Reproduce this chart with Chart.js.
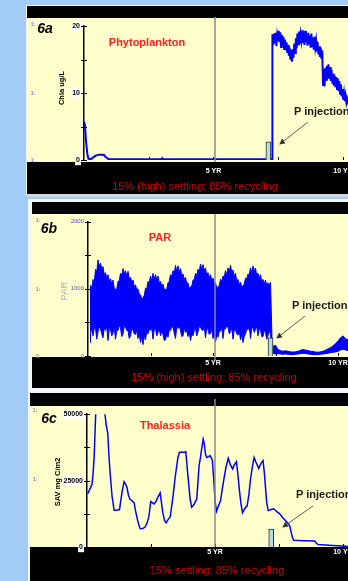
<!DOCTYPE html>
<html>
<head>
<meta charset="utf-8">
<title>Fig 6a-6c</title>
<script src="https://cdn.jsdelivr.net/npm/chart.js@4.4.1/dist/chart.umd.min.js"></script>
<style>
  html, body { margin: 0; padding: 0; width: 348px; height: 581px; overflow: hidden; background: #a2cbf5; }
  body { position: relative; font-family: "Liberation Sans", Arial, sans-serif; }
  .box { position: absolute; }
  .white { background: #f2f7fc; }
  .black { background: #000; }
  .yellow { background: #ffffcc; }
  canvas { position: absolute; }
  .t { position: absolute; white-space: nowrap; line-height: 1; transform: translate(-50%, -50%); }
  .tl { position: absolute; white-space: nowrap; line-height: 1; transform: translateY(-50%); }
  .rot { transform: translate(-50%, -50%) rotate(-90deg); }
  .fig { font-size: 14px; font-weight: bold; font-style: italic; color: #000; }
  .title { font-size: 11px; font-weight: bold; color: #ff2020; }
  .inj { font-size: 11px; font-weight: bold; color: #1a1a1a; }
  .cap { font-size: 11px; color: #c80000; }
  .one { font-size: 5px; font-weight: bold; color: #7c7cdc; }
  .ytitle { font-size: 7.5px; font-weight: bold; color: #000; }
</style>
</head>
<body>

<!-- panel 6a frame -->
<div class="box white" style="left:26px;top:5px;width:330px;height:190px"></div>
<div class="box black" style="left:27px;top:6px;width:330px;height:12px"></div>
<div class="box yellow" style="left:27px;top:18px;width:330px;height:144px"></div>
<div class="box black" style="left:27px;top:162px;width:330px;height:32px"></div>
<div class="box" style="left:27px;top:194px;width:330px;height:3px;background:#cfd8e2"></div>

<!-- panel 6b frame -->
<div class="box white" style="left:28px;top:199px;width:330px;height:191px"></div>
<div class="box black" style="left:32px;top:202px;width:330px;height:12px"></div>
<div class="box yellow" style="left:32px;top:214px;width:330px;height:143px"></div>
<div class="box black" style="left:32px;top:357px;width:330px;height:31px"></div>

<!-- panel 6c frame -->
<div class="box white" style="left:28px;top:389px;width:330px;height:192px"></div>
<div class="box black" style="left:30px;top:393px;width:330px;height:13px"></div>
<div class="box yellow" style="left:30px;top:406px;width:330px;height:141px"></div>
<div class="box black" style="left:30px;top:547px;width:330px;height:34px"></div>

<canvas id="chartA" width="353" height="176" style="left:27px;top:18px"></canvas>
<canvas id="chartB" width="348" height="174" style="left:32px;top:214px"></canvas>
<canvas id="chartC" width="350" height="175" style="left:30px;top:406px"></canvas>

<!-- 5 YR marker lines and arrows -->
<svg class="box" width="348" height="581" style="left:0;top:0">
  <defs>
    <marker id="ah" markerWidth="6" markerHeight="6" refX="5" refY="3" orient="auto" markerUnits="userSpaceOnUse">
      <path d="M0,0 L6,3 L0,6 z" fill="#333"/>
    </marker>
  </defs>
  <g stroke="#8a8a8a" stroke-width="1.5">
    <line x1="215" y1="17" x2="215" y2="162"/>
    <line x1="215" y1="214" x2="215" y2="360"/>
    <line x1="215" y1="399" x2="215" y2="547"/>
  </g>
  <g stroke="#333" stroke-width="0.8">
    <line x1="308" y1="122" x2="280" y2="144" marker-end="url(#ah)"/>
    <line x1="305" y1="316" x2="277" y2="338" marker-end="url(#ah)"/>
    <line x1="313" y1="506" x2="283" y2="527" marker-end="url(#ah)"/>
  </g>
</svg>

<!-- texts 6a -->
<div class="t fig" style="left:45px;top:28px">6a</div>
<div class="t title" style="left:147px;top:42px">Phytoplankton</div>
<div class="t ytitle rot" style="left:62px;top:88px">Chla ug/L</div>
<div class="tl inj" style="left:294px;top:111px">P injection</div>
<div class="t one" style="left:33px;top:24px">1:</div>
<div class="t one" style="left:33px;top:93px">1:</div>
<div class="t one" style="left:33px;top:160px">1:</div>
<div class="t cap" style="left:195px;top:186px">15% (high) settling; 85% recycling</div>

<!-- texts 6b -->
<div class="t fig" style="left:49px;top:228px">6b</div>
<div class="t title" style="left:160px;top:237px">PAR</div>
<div class="t rot" style="left:64px;top:291px;font-size:9.5px;color:#b0b0b0">PAR</div>
<div class="tl inj" style="left:292px;top:305px">P injection</div>
<div class="t one" style="left:38px;top:220px">1:</div>
<div class="t one" style="left:38px;top:289px">1:</div>
<div class="t one" style="left:38px;top:356px">1:</div>
<div class="t cap" style="left:214px;top:377px">15% (high) settling; 85% recycling</div>

<!-- texts 6c -->
<div class="t fig" style="left:49px;top:418px">6c</div>
<div class="t title" style="left:165px;top:425px">Thalassia</div>
<div class="t ytitle rot" style="left:58px;top:482px">SAV mg C/m2</div>
<div class="tl inj" style="left:296px;top:494px">P injection</div>
<div class="t one" style="left:35px;top:410px">1:</div>
<div class="t one" style="left:35px;top:479px">1:</div>
<div class="t cap" style="left:217px;top:570px">15% settling; 85% recycling</div>

<script>
// ---- 6a Phytoplankton (Chla ug/L), time in years ----
const phytoT = [0, 0.04, 0.08, 0.13, 0.17, 0.26, 0.35, 0.45, 0.58, 0.7, 0.77, 0.85, 0.96, 1.05, 3.0, 3.02, 3.04, 7.26,
  7.27, 7.28, 7.31, 7.34, 7.37, 7.40, 7.43, 7.46, 7.49, 7.52, 7.55, 7.58, 7.61, 7.64, 7.67, 7.70, 7.73, 7.76, 7.79,
  7.82, 7.85, 7.88, 7.91, 7.94, 7.97, 8.00, 8.03, 8.06, 8.09, 8.12, 8.15, 8.18, 8.21, 8.24, 8.27, 8.30, 8.33, 8.36,
  8.39, 8.42, 8.45, 8.48, 8.51, 8.54, 8.57, 8.60, 8.63, 8.66, 8.69, 8.72, 8.75, 8.78, 8.81, 8.84, 8.87, 8.90, 8.93,
  8.96, 8.99, 9.02, 9.05, 9.08, 9.11, 9.14, 9.17, 9.20, 9.23, 9.26, 9.29, 9.32, 9.35, 9.38, 9.41, 9.44, 9.47, 9.50,
  9.53, 9.56, 9.59, 9.62, 9.65, 9.68, 9.71, 9.74, 9.77, 9.80, 9.83, 9.86, 9.89, 9.92, 9.95, 9.98, 10.01, 10.04,
  10.07, 10.10, 10.13, 10.16, 10.19, 10.22];
const phytoChla = [5.7, 5.2, 2.7, 0.9, 0.2, 0.1, 0.35, 0.65, 0.8, 0.8, 0.75, 0.4, 0.1, 0.1, 0.1, 0.25, 0.1, 0.1,
  12, 18.8, 17.2, 18.9, 17.5, 19.0, 17.0, 18.6, 17.8, 19.3, 17.6, 19.1, 16.9, 18.7, 17.3, 18.4, 16.6, 18.0, 16.4,
  17.6, 16.0, 17.2, 15.6, 16.8, 15.0, 16.4, 14.7, 16.6, 15.3, 17.4, 16.0, 18.2, 16.7, 18.9, 17.3, 19.2, 17.4, 18.8,
  17.9, 19.4, 17.5, 19.1, 17.2, 19.3, 17.6, 18.7, 17.1, 19.0, 17.4, 18.6, 16.8, 18.9, 17.0, 18.3, 16.5, 18.4, 16.9,
  17.8, 16.2, 17.6, 15.8, 17.0, 15.4, 16.8, 15.1, 16.4, 11.2, 13.6, 11.0, 13.8, 12.0, 14.1, 12.3, 14.3, 12.1, 13.9,
  11.8, 13.5, 11.4, 12.9, 11.1, 12.6, 10.9, 12.4, 10.6, 12.2, 10.3, 11.8, 9.9, 11.3, 9.5, 10.6, 9.0, 10.0,
  8.8, 9.6, 8.6, 9.2, 8.7, 8.5];
const phytoInjYear = [7.12];
const phytoInjHeight = [2.7];
const phytoLabels = [0, 10, 20];
const phytoMarks = [0, 5, 10, 15, 20];

// ---- 6b PAR: upper and lower edge of the daily band ----
const parT = [0.08,
  0.10, 0.15, 0.20, 0.25, 0.30, 0.35, 0.40, 0.45, 0.50, 0.55, 0.60, 0.65, 0.70, 0.75, 0.80, 0.85, 0.90, 0.95,
  1.00, 1.05, 1.10, 1.15, 1.20, 1.25, 1.30, 1.35, 1.40, 1.45, 1.50, 1.55, 1.60, 1.65, 1.70, 1.75, 1.80, 1.85, 1.90, 1.95,
  2.00, 2.05, 2.10, 2.15, 2.20, 2.25, 2.30, 2.35, 2.40, 2.45, 2.50, 2.55, 2.60, 2.65, 2.70, 2.75, 2.80, 2.85, 2.90, 2.95,
  3.00, 3.05, 3.10, 3.15, 3.20, 3.25, 3.30, 3.35, 3.40, 3.45, 3.50, 3.55, 3.60, 3.65, 3.70, 3.75, 3.80, 3.85, 3.90, 3.95,
  4.00, 4.05, 4.10, 4.15, 4.20, 4.25, 4.30, 4.35, 4.40, 4.45, 4.50, 4.55, 4.60, 4.65, 4.70, 4.75, 4.80, 4.85, 4.90, 4.95,
  5.00, 5.05, 5.10, 5.15, 5.20, 5.25, 5.30, 5.35, 5.40, 5.45, 5.50, 5.55, 5.60, 5.65, 5.70, 5.75, 5.80, 5.85, 5.90, 5.95,
  6.00, 6.05, 6.10, 6.15, 6.20, 6.25, 6.30, 6.35, 6.40, 6.45, 6.50, 6.55, 6.60, 6.65, 6.70, 6.75, 6.80, 6.85, 6.90, 6.95,
  7.00, 7.05, 7.10, 7.15, 7.20, 7.25, 7.30, 7.36,
  7.4, 7.5, 7.6, 7.7, 7.8, 7.9, 8.0,
  8.1, 8.2, 8.3, 8.4, 8.5, 8.6, 8.7, 8.8, 8.9, 9.0,
  9.1, 9.2, 9.3, 9.4, 9.5, 9.6, 9.7, 9.8, 9.9, 10.0,
  10.1, 10.2, 10.3, 10.4];
const parHigh = [830,
  1050, 1010, 1140, 1090, 1290, 1250, 1430, 1330, 1380, 1300, 1330, 1210, 1240, 1160, 1210, 1110, 1150, 1070,
  1130, 1010, 990, 1000, 1110, 1120, 1230, 1200, 1300, 1220, 1270, 1180, 1260, 1150, 1170, 1100, 1130, 1030, 1060, 990,
  1000, 920, 910, 850, 870, 900, 1010, 1000, 1110, 1080, 1190, 1120, 1230, 1150, 1210, 1130, 1190, 1090, 1110, 1040,
  1070, 990, 990, 1000, 1090, 1110, 1210, 1190, 1270, 1230, 1350, 1260, 1340, 1250, 1300, 1200, 1220, 1140, 1170, 1080,
  1090, 1000, 1030, 1040, 1130, 1140, 1230, 1200, 1290, 1250, 1370, 1280, 1360, 1270, 1310, 1210, 1240, 1160, 1210, 1120,
  1160, 1080, 1090, 1010, 1030, 1050, 1140, 1120, 1190, 1180, 1270, 1210, 1310, 1250, 1350, 1240, 1280, 1190, 1230, 1120,
  1140, 1060, 1100, 1020, 1050, 1070, 1160, 1150, 1220, 1210, 1310, 1240, 1340, 1260, 1310, 1200, 1230, 1150, 1210, 1100,
  1140, 1070, 1130, 1050, 1090, 1040, 1100, 250,
  140, 160, 95, 80, 70, 78, 70,
  62, 58, 62, 70, 85, 95, 88, 80, 72, 66,
  60, 56, 62, 70, 85, 105, 125, 150, 185, 225,
  270, 300, 260, 240];
const parLow = [200,
  330, 420, 300, 410, 420, 250, 360, 440, 400, 330, 270, 420, 380, 440, 230, 410, 400, 300,
  340, 430, 250, 380, 380, 450, 420, 290, 330, 440, 430, 380, 380, 260, 300, 400, 390, 330, 320, 380,
  260, 330, 200, 290, 170, 300, 240, 360, 330, 400, 380, 420, 250, 400, 400, 300, 350, 410, 300, 380,
  320, 230, 240, 330, 280, 390, 380, 440, 430, 340, 260, 430, 410, 450, 380, 290, 300, 420, 350, 380,
  290, 350, 230, 330, 300, 380, 410, 300, 360, 440, 430, 390, 380, 440, 270, 410, 400, 320, 340, 410,
  260, 350, 210, 300, 280, 370, 370, 420, 260, 410, 400, 450, 430, 330, 360, 430, 250, 390, 390, 330,
  310, 380, 240, 320, 200, 290, 330, 400, 390, 440, 260, 420, 420, 350, 400, 440, 300, 410, 380, 290,
  290, 380, 350, 250, 300, 380, 320, 60,
  40, 30, 35, 30, 25, 30, 25,
  20, 20, 25, 30, 35, 40, 35, 30, 25, 20,
  20, 20, 25, 30, 35, 40, 50, 55, 60, 70,
  90, 100, 90, 80];
const parInjYear = [7.3];
const parInjHeight = [270];
const parLabels = [0, 1000, 2000];
const parMarks = [0, 500, 1000, 1500, 2000];

// ---- 6c Thalassia (SAV mg C/m2) ----
const thalT = [0.02, 0.1, 0.2, 0.24, 0.28, 0.32, 0.36, 0.45, 0.6, 0.69, 0.75, 0.81, 0.86, 0.91, 0.98,
  1.06, 1.15, 1.27, 1.33, 1.38, 1.45, 1.5, 1.56, 1.62, 1.68, 1.75, 1.84, 1.9, 1.95,
  2.02, 2.08, 2.18, 2.27, 2.35, 2.42, 2.49, 2.55, 2.62, 2.7, 2.75, 2.86, 2.96,
  3.03, 3.09, 3.18, 3.25, 3.32, 3.38, 3.43, 3.48, 3.55, 3.61, 3.7, 3.8, 3.86, 3.92, 3.98,
  4.03, 4.09, 4.18, 4.29, 4.34, 4.38, 4.44, 4.48, 4.54, 4.58, 4.63, 4.68, 4.75, 4.81, 4.86, 4.9, 4.96,
  5.01, 5.06, 5.14, 5.22, 5.28, 5.35, 5.43, 5.52, 5.6, 5.69, 5.76, 5.84, 5.9, 5.95,
  6.02, 6.08, 6.17, 6.26, 6.33, 6.39, 6.46, 6.53, 6.6, 6.71, 6.8, 6.88, 6.93, 6.97,
  7.02, 7.08, 7.2, 7.3, 7.42, 7.53, 7.65, 7.8, 7.92, 7.98,
  8.03, 8.08, 8.5, 8.9, 8.95, 9.03, 9.61, 10.13, 10.4];
const thalSav = [20000, 21500, 23700, 28000, 34000, 45000, 55000, 62000, 60000, 51000, 46000, 43000, 34000, 27000, 19000,
  13800, 13800, 14100, 18000, 21300, 24600, 23800, 22500, 19500, 18000, 17500, 16600, 13500, 11200,
  8500, 6900, 7000, 7500, 9000, 11500, 17100, 16700, 16200, 17200, 18400, 20400, 13100,
  10000, 9100, 10500, 11300, 16000, 20600, 25000, 28700, 33500, 35600, 35800, 35600, 35900, 29400, 23000,
  18100, 15000, 16000, 18100, 25000, 30600, 34000, 36900, 40600, 39000, 35000, 33700, 34000, 34400, 33500, 32500, 24400,
  17000, 13400, 15500, 17500, 21500, 25600, 30000, 33400, 31000, 29400, 31000, 32100, 27000, 21900,
  16000, 12900, 14500, 15600, 20000, 25600, 30000, 33700, 32000, 29600, 31500, 32500, 28000, 23100,
  17000, 13700, 14100, 14400, 13300, 12500, 11000, 9500, 8100, 5500,
  3500, 2500, 2400, 2250, 1500, 900, 600, 250, 200];
const thalInjYear = [7.2];
const thalInjHeight = [6700];
const thalLabels = [0, 25000, 50000];
const thalMarks = [0, 12500, 25000, 37500, 50000];

// x axis (years)
const xTickValues = [5, 10];
const xTickNames = ['5 YR', '10 YR'];
const xTickMarks = [2.5, 5, 7.5, 10];

function pts(xs, ys) {
  return xs.map((x, i) => ({ x: x, y: ys[i] }));
}

// small tick marks: across the y axis, upward on the x axis
const tickMarks = {
  id: 'tickMarks',
  afterDraw(chart, args, opts) {
    const ctx = chart.ctx;
    const sx = chart.scales.x, sy = chart.scales.y;
    ctx.save();
    ctx.strokeStyle = '#000';
    ctx.lineWidth = 1;
    ctx.beginPath();
    (opts.y || []).forEach(v => {
      const py = Math.round(sy.getPixelForValue(v)) + 0.5;
      ctx.moveTo(sy.right - 3, py);
      ctx.lineTo(sy.right + 3, py);
    });
    (opts.x || []).forEach(v => {
      const px = Math.round(sx.getPixelForValue(v)) + 0.5;
      ctx.moveTo(px, sx.top);
      ctx.lineTo(px, sx.top - 3);
    });
    ctx.stroke();
    ctx.restore();
  }
};

function injectionBar(xs, hs) {
  return {
    type: 'bar',
    data: pts(xs, hs),
    barThickness: 5,
    backgroundColor: '#b5dde4',
    borderColor: '#2b2b2b',
    borderWidth: 1,
    order: 0
  };
}

function makePanel(id, p) {
  return new Chart(document.getElementById(id), {
    type: 'line',
    data: { datasets: p.datasets },
    options: {
      responsive: false,
      animation: false,
      devicePixelRatio: 1,
      events: [],
      layout: { padding: { top: 7, right: 0, bottom: 0, left: 0 } },
      elements: { point: { radius: 0 }, line: { tension: 0 } },
      plugins: {
        legend: { display: false },
        tooltip: { enabled: false },
        tickMarks: { x: xTickMarks, y: p.yMarks }
      },
      scales: {
        x: {
          type: 'linear',
          min: 0,
          max: p.xMax,
          offset: false,
          grid: { display: false, drawTicks: false },
          border: { display: false },
          afterFit: s => { s.height = p.xAxisH; },
          afterBuildTicks: s => { s.ticks = xTickValues.map(v => ({ value: v })); },
          ticks: {
            padding: p.xPad,
            color: '#fff',
            autoSkip: false,
            maxRotation: 0,
            font: { family: 'Liberation Sans', size: 7, weight: 'bold' },
            callback: v => xTickNames[xTickValues.indexOf(v)] || ''
          }
        },
        y: {
          min: 0,
          max: p.yMax,
          grid: { display: false, drawTicks: false },
          border: { display: true, color: '#000', width: 1.5 },
          afterFit: s => { s.width = p.yAxisW; },
          afterBuildTicks: s => { s.ticks = p.yLabels.map(v => ({ value: v })); },
          ticks: {
            padding: 4,
            color: p.tickColor,
            font: p.tickFont,
            showLabelBackdrop: p.backdrop,
            backdropColor: '#fff',
            backdropPadding: 1,
            callback: v => String(v)
          }
        }
      }
    },
    plugins: [tickMarks]
  });
}

makePanel('chartA', {
  xMax: 11.43, yMax: 20, yAxisW: 57, xAxisH: 34, xPad: 7,
  yLabels: phytoLabels, yMarks: phytoMarks,
  tickColor: '#000', tickFont: { family: 'Liberation Sans', size: 7, weight: 'bold' }, backdrop: true,
  datasets: [
    { data: pts(phytoT, phytoChla), borderColor: '#0000ff', borderWidth: 2, fill: false, order: 1 },
    injectionBar(phytoInjYear, phytoInjHeight)
  ]
});

makePanel('chartB', {
  xMax: 11.68, yMax: 2000, yAxisW: 56, xAxisH: 32, xPad: 3,
  yLabels: parLabels, yMarks: parMarks,
  tickColor: '#5050c8', tickFont: { family: 'Liberation Sans', size: 6 }, backdrop: false,
  datasets: [
    { data: pts(parT, parLow), borderColor: '#0000ff', borderWidth: 1, fill: false, order: 2 },
    { data: pts(parT, parHigh), borderColor: '#0000ff', borderWidth: 1, backgroundColor: '#0000ff', fill: '-1', order: 1 },
    injectionBar(parInjYear, parInjHeight)
  ]
});

makePanel('chartC', {
  xMax: 11.45, yMax: 50000, yAxisW: 57, xAxisH: 34, xPad: 1,
  yLabels: thalLabels, yMarks: thalMarks,
  tickColor: '#000', tickFont: { family: 'Liberation Sans', size: 7, weight: 'bold' }, backdrop: true,
  datasets: [
    { data: pts(thalT, thalSav), borderColor: '#0000ff', borderWidth: 1.5, fill: false, order: 1 },
    injectionBar(thalInjYear, thalInjHeight)
  ]
});
</script>
</body>
</html>
